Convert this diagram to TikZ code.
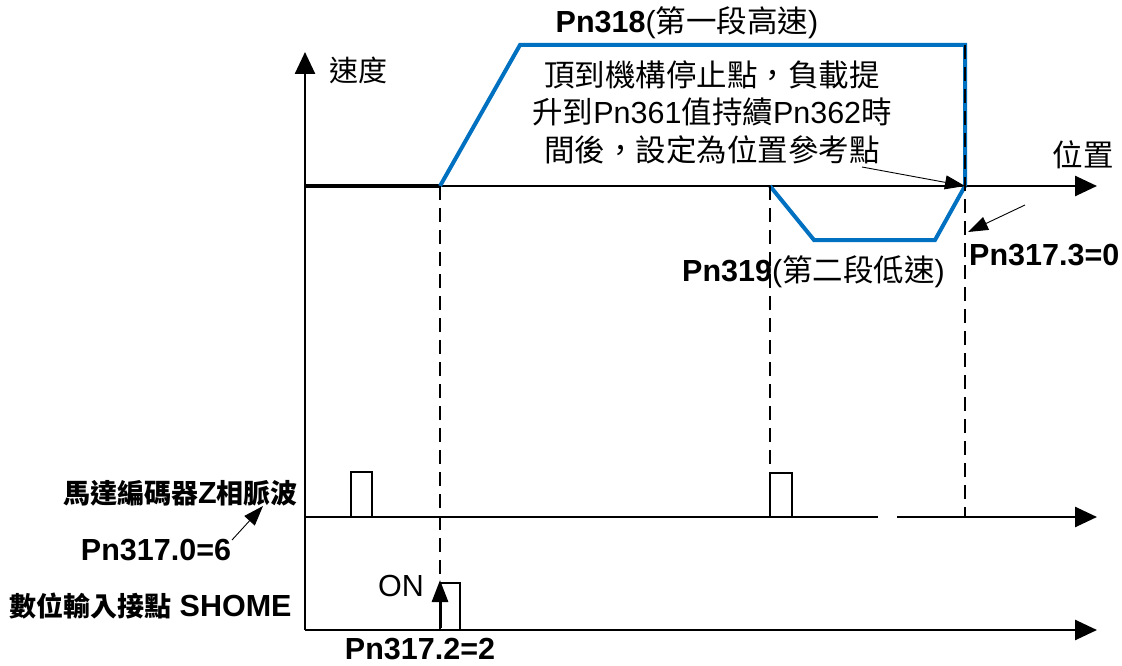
\documentclass[tikz,border=0pt]{standalone}
\usepackage{fontspec}
\setmainfont{Liberation Sans}
\newfontfamily\cjk{Noto Sans CJK TC}
\usetikzlibrary{arrows.meta}
\definecolor{profblue}{RGB}{0,112,192}
\newcommand{\smallcjk}[1]{{\fontsize{27}{30}\selectfont\cjk #1}}
\tikzset{
  lbl/.style={font=\fontsize{30.5}{37.5}\selectfont, inner sep=0pt},
  axisline/.style={line width=2.6pt, -{Triangle[length=22pt,width=20pt]}},
  prof/.style={line width=4pt, draw=profblue, line join=miter},
  guide/.style={line width=1.6pt, dash pattern=on 14pt off 8pt},
  pulse/.style={line width=2.8pt},
  callout/.style={line width=0.9pt, -{Triangle[length=20pt,width=14pt]}},
}
\begin{document}
\begin{tikzpicture}[x=1pt,y=-1pt]
\useasboundingbox (0,0) rectangle (1122,666);
% coordinates
\coordinate (o1) at (305,186);
\coordinate (e1) at (1097,186);
\coordinate (vtop) at (305,52);
\coordinate (vbot) at (305,630);
\coordinate (o2) at (305,517);
\coordinate (e2) at (1097,517);
\coordinate (o3) at (305,630);
\coordinate (e3) at (1097,630);
% axes
\draw[axisline] (vbot) -- (vtop);
\draw[axisline] (o1) -- (e1);
\draw[axisline] (o2) -- (e2);
\draw[white, line width=3pt] (878,517) -- (897,517);
\draw[axisline] (o3) -- (e3);
% zero speed thick segment
\coordinate (s0) at (440,186);
\draw[line width=4pt] (o1) -- (s0);
% blue speed profiles
\coordinate (h1) at (520,45);
\coordinate (h2) at (965,45);
\coordinate (h3) at (965,186);
\draw[prof] (s0) -- (h1) -- (h2) -- (h3);
\coordinate (l0) at (770,186);
\coordinate (l1) at (814,240);
\coordinate (l2) at (935,240);
\draw[prof] (l0) -- (l1) -- (l2) -- (h3);
% dashed guides
\coordinate (d1b) at (440,584);
\coordinate (d2b) at (770,517);
\coordinate (d3t) at (965,45);
\coordinate (d3b) at (965,517);
\draw[guide] (s0) -- (d1b);
\draw[guide] (l0) -- (d2b);
\draw[guide] (d3t) -- (d3b);
% Z pulses
\draw[pulse] (351,517) -- (351,472) -- (372,472) -- (372,517);
\draw[pulse] (770,517) -- (770,473) -- (792,473) -- (792,517);
% SHOME pulse
\draw[pulse] (440,630) -- (440,583) -- (460,583) -- (460,630);
\coordinate (onb) at (440,628);
\coordinate (ont) at (440,580);
\draw[line width=3pt, -{Triangle[length=22pt,width=16pt]}] (onb) -- (ont);
% labels
\node[lbl, anchor=west] (spd) at (329,70) {\fontsize{29}{30}\selectfont\cjk 速度};
\node[lbl] (pos) at (1083,155) {\cjk 位置};
\node[lbl] (p318) at (687,23) {\textbf{Pn318}({\cjk 第一段高速})};
\node[lbl, align=center] (note) at (712,112) {{\cjk 頂到機構停止點，負載提}\\{\cjk 升到}Pn361{\cjk 值持續}Pn362{\cjk 時}\\{\cjk 間後，設定為位置參考點}};
\node[lbl, anchor=west] (p319) at (682,272) {\textbf{Pn319}({\cjk 第二段低速})};
\node[lbl, anchor=west] (p3173) at (969,255) {\textbf{Pn317.3=0}};
\node[lbl, anchor=east] (zlab) at (298,493) {\textbf{\smallcjk{馬達編碼器}Z\smallcjk{相脈波}}};
\node[lbl] (p3170) at (156,550) {\textbf{Pn317.0=6}};
\node[lbl, anchor=west] (shome) at (9,606) {\textbf{\smallcjk{數位輸入接點} SHOME}};
\node[lbl] (on) at (401,586) {ON};
\node[lbl] (p3172) at (420,649) {\textbf{Pn317.2=2}};
% callouts
\coordinate (n1) at (862,167);
\draw[callout] (n1) -- (h3);
\coordinate (c2) at (1025,205);
\coordinate (c2e) at (968,232);
\draw[callout] (c2) -- (c2e);
\coordinate (c3) at (232,540);
\coordinate (c3e) at (263,506);
\draw[callout] (c3) -- (c3e);
\end{tikzpicture}
\end{document}
